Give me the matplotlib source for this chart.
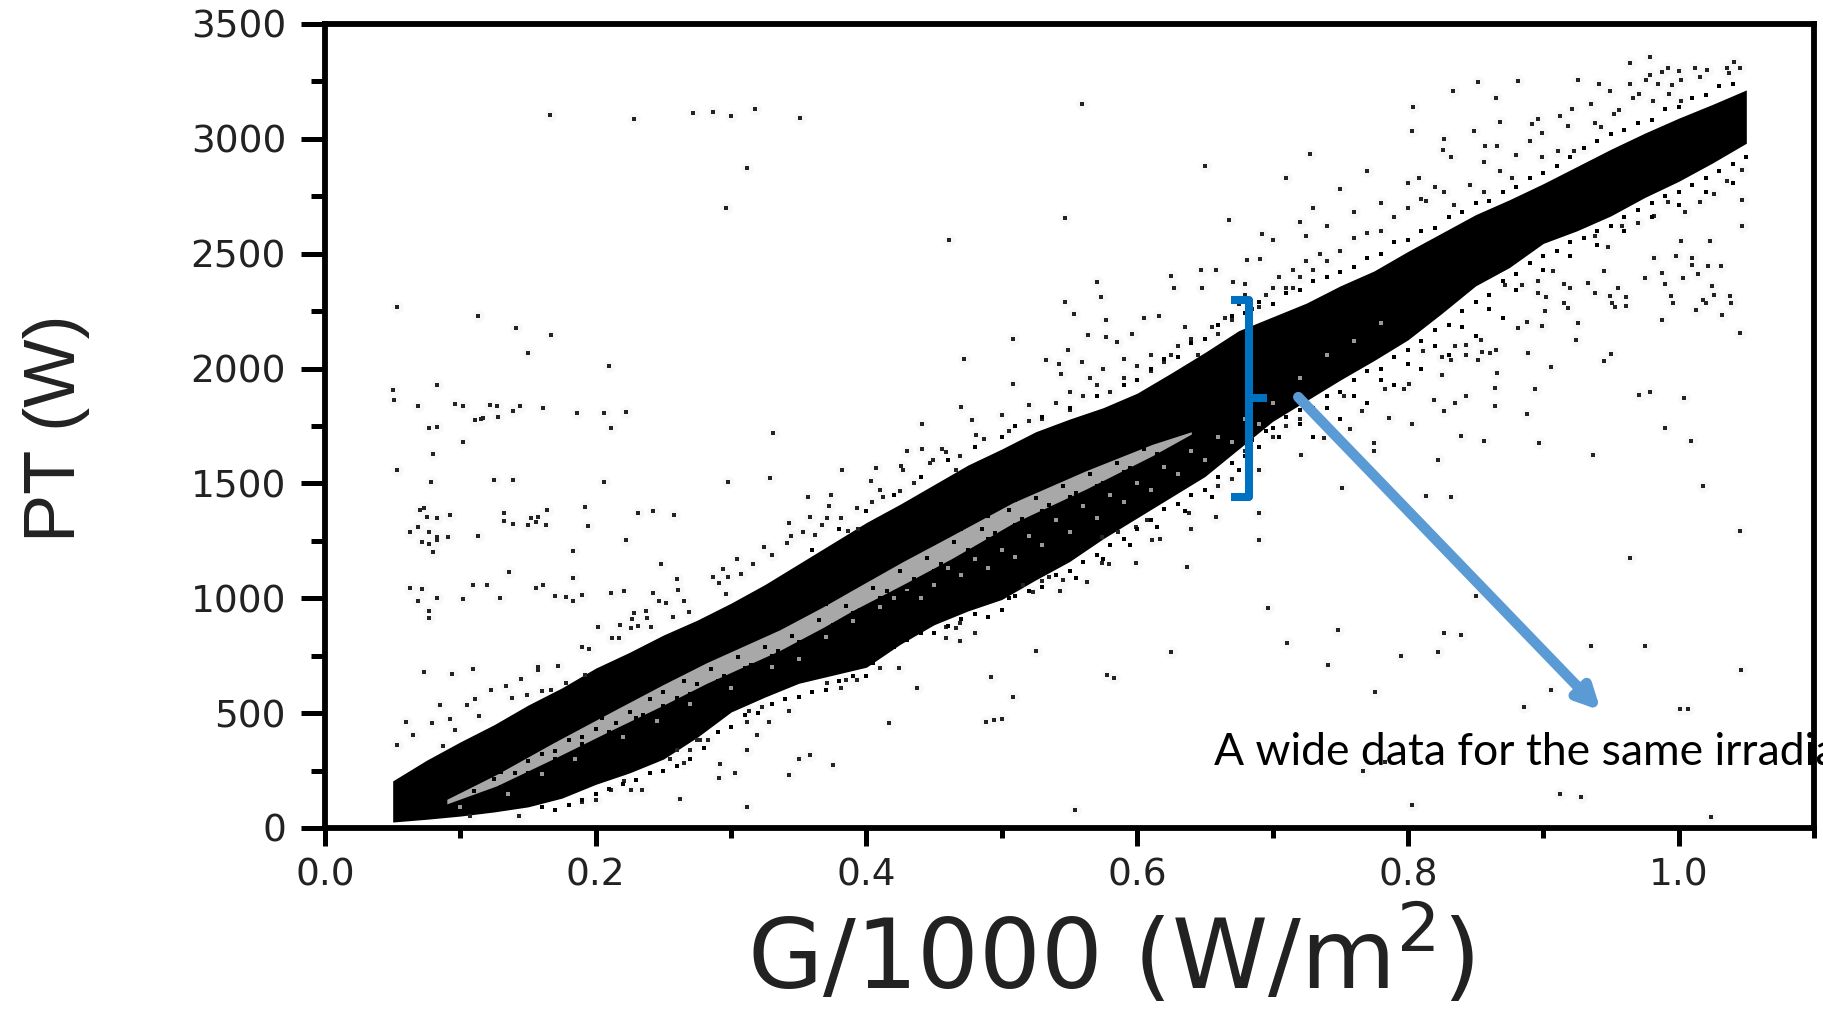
import numpy as np
import matplotlib
matplotlib.use('Agg')
import matplotlib.pyplot as plt
from matplotlib.ticker import MultipleLocator

# dense band, edges
band_x = [0.05, 0.075, 0.10, 0.125, 0.15, 0.175, 0.20, 0.225, 0.25, 0.275, 0.30, 0.325, 0.35, 0.375, 0.40,
          0.425, 0.45, 0.475, 0.50, 0.525, 0.55, 0.575, 0.60, 0.625, 0.65, 0.675, 0.70, 0.725, 0.75, 0.775,
          0.80, 0.825, 0.85, 0.875, 0.90, 0.925, 0.95, 0.975, 1.00, 1.025, 1.05]
band_top = [205, 295, 375, 450, 535, 610, 696, 765, 840, 905, 979, 1060, 1150, 1240, 1330,
            1410, 1495, 1580, 1650, 1725, 1780, 1830, 1893, 1980, 2070, 2165, 2225, 2285, 2360, 2425,
            2510, 2590, 2670, 2735, 2805, 2880, 2955, 3025, 3090, 3150, 3213]
band_bottom = [26, 38, 52, 70, 92, 130, 190, 240, 300, 395, 505, 570, 630, 665, 700,
               800, 885, 945, 995, 1080, 1160, 1260, 1350, 1440, 1530, 1650, 1770, 1860, 1950, 2035,
               2125, 2240, 2360, 2440, 2545, 2600, 2665, 2745, 2815, 2895, 2981]

# paler gap between the two branches
gap_x = [0.09, 0.127, 0.17, 0.213, 0.25, 0.282, 0.336, 0.368, 0.39, 0.427, 0.463, 0.508, 0.562, 0.611, 0.64]
gap_top = [125, 234, 375, 510, 625, 720, 863, 963, 1037, 1160, 1273, 1416, 1555, 1670, 1725]
gap_bottom = [105, 184, 305, 430, 535, 630, 773, 873, 947, 1060, 1173, 1326, 1475, 1620, 1715]

gap_specks = [(0.11, 160), (0.125, 215), (0.14, 240), (0.15, 290), (0.16, 320), (0.17, 335), (0.18, 385), (0.19, 395),
              (0.20, 430), (0.205, 480), (0.215, 455), (0.225, 505), (0.235, 490), (0.24, 560), (0.25, 590), (0.26, 565),
              (0.265, 640), (0.275, 625), (0.285, 690), (0.295, 660), (0.305, 745), (0.315, 710), (0.325, 790), (0.335, 770),
              (0.345, 835), (0.355, 815), (0.365, 905), (0.375, 885), (0.385, 965), (0.395, 950), (0.405, 1045), (0.415, 1030),
              (0.425, 1120), (0.435, 1085), (0.445, 1175), (0.455, 1150), (0.465, 1245), (0.475, 1210), (0.485, 1300), (0.495, 1285),
              (0.505, 1385), (0.515, 1345), (0.525, 1435), (0.535, 1405), (0.545, 1490), (0.555, 1460), (0.565, 1540), (0.575, 1500),
              (0.585, 1590), (0.595, 1565), (0.605, 1650), (0.615, 1630)]
gap_edge_top = [(0.13, 245), (0.15, 320), (0.17, 385), (0.19, 455), (0.21, 520), (0.23, 580), (0.25, 640), (0.27, 700),
                (0.29, 755), (0.31, 810), (0.33, 860), (0.35, 920), (0.37, 975), (0.39, 1050), (0.41, 1120), (0.43, 1180),
                (0.45, 1240), (0.47, 1300), (0.49, 1360), (0.51, 1430), (0.53, 1490), (0.55, 1540), (0.57, 1590), (0.59, 1640)]
gap_edge_bottom = [(0.13, 180), (0.15, 240), (0.17, 300), (0.19, 365), (0.21, 420), (0.23, 480), (0.25, 530), (0.27, 585),
                   (0.29, 640), (0.31, 695), (0.33, 750), (0.35, 810), (0.37, 860), (0.39, 935), (0.41, 1000), (0.43, 1050),
                   (0.45, 1120), (0.47, 1180), (0.49, 1260), (0.51, 1320), (0.53, 1380), (0.55, 1440), (0.57, 1490), (0.59, 1550)]
white_specks = [(0.10, 90), (0.135, 150), (0.16, 235), (0.185, 300), (0.22, 395), (0.245, 465), (0.27, 540), (0.30, 610),
                (0.33, 700), (0.35, 735), (0.37, 830), (0.39, 900), (0.41, 960), (0.42, 1000), (0.43, 1040), (0.44, 1000),
                (0.45, 1060), (0.46, 1130), (0.47, 1100), (0.48, 1170), (0.49, 1130), (0.50, 1210), (0.51, 1180), (0.52, 1270),
                (0.53, 1230), (0.54, 1340), (0.55, 1290), (0.56, 1400), (0.57, 1350), (0.58, 1450), (0.59, 1420), (0.60, 1500),
                (0.61, 1470), (0.62, 1570), (0.63, 1540), (0.64, 1640), (0.65, 1600), (0.66, 1700), (0.67, 1680), (0.68, 1780),
                (0.69, 1760), (0.70, 1850), (0.72, 1960), (0.74, 2060), (0.76, 2120), (0.78, 2200)]

# scattered points, upper left
left_cloud = [(0.053, 2268), (0.113, 2229), (0.141, 2177), (0.167, 2146), (0.150, 2068), (0.210, 2011), (0.05, 1907), (0.051, 1863),
              (0.083, 1928), (0.069, 1837), (0.096, 1846), (0.102, 1837), (0.115, 1780), (0.111, 1776), (0.117, 1785), (0.122, 1841),
              (0.127, 1837), (0.128, 1789), (0.139, 1815), (0.144, 1837), (0.161, 1828), (0.186, 1806), (0.206, 1806), (0.222, 1811),
              (0.211, 1741), (0.077, 1741), (0.083, 1746), (0.102, 1680), (0.080, 1628), (0.078, 1506), (0.053, 1558), (0.125, 1515),
              (0.139, 1515), (0.206, 1506), (0.298, 1506), (0.329, 1524), (0.331, 1719), (0.073, 1393), (0.070, 1385), (0.092, 1362),
              (0.083, 1349), (0.075, 1353), (0.069, 1310), (0.063, 1288), (0.077, 1288), (0.083, 1267), (0.091, 1267), (0.072, 1245),
              (0.077, 1236), (0.083, 1254), (0.113, 1271), (0.080, 1201), (0.132, 1371), (0.132, 1336), (0.139, 1323), (0.152, 1349),
              (0.157, 1353), (0.150, 1318), (0.156, 1331), (0.163, 1318), (0.164, 1384), (0.192, 1397), (0.194, 1314), (0.231, 1371),
              (0.242, 1380), (0.258, 1362), (0.222, 1254), (0.183, 1206), (0.248, 1149), (0.136, 1114), (0.183, 1088), (0.260, 1084),
              (0.294, 1127), (0.287, 1093), (0.298, 1093), (0.063, 1045), (0.072, 1041), (0.109, 1058), (0.120, 1058), (0.156, 1045),
              (0.161, 1058), (0.170, 1010), (0.178, 1006), (0.183, 988), (0.190, 1015), (0.211, 1023), (0.221, 1032), (0.069, 988),
              (0.083, 1001), (0.102, 997), (0.129, 1001), (0.077, 945), (0.077, 915), (0.242, 1023), (0.252, 980), (0.261, 1036),
              (0.265, 988), (0.247, 988), (0.237, 944), (0.228, 938), (0.202, 875), (0.227, 910), (0.218, 885), (0.238, 915),
              (0.241, 875), (0.257, 920), (0.269, 940), (0.226, 870), (0.231, 878), (0.212, 825), (0.217, 825), (0.190, 788),
              (0.166, 3104), (0.228, 3086), (0.272, 3112), (0.287, 3117), (0.300, 3100), (0.318, 3130), (0.351, 3090), (0.312, 2873),
              (0.296, 2699), (0.073, 679), (0.094, 672), (0.109, 691), (0.157, 688), (0.172, 704), (0.145, 647), (0.134, 618),
              (0.123, 600), (0.111, 561), (0.114, 488), (0.092, 474), (0.085, 535), (0.060, 462), (0.065, 404), (0.053, 361),
              (0.087, 358), (0.079, 455), (0.096, 425), (0.105, 535), (0.138, 567), (0.149, 580), (0.160, 596), (0.192, 665),
              (0.178, 630), (0.167, 600), (0.157, 703), (0.195, 780), (0.343, 1328), (0.358, 1354), (0.362, 1275), (0.344, 1270),
              (0.324, 1223), (0.33, 1190), (0.316, 1150), (0.307, 1105), (0.304, 1170), (0.291, 1065), (0.296, 1020), (0.357, 1440),
              (0.372, 1400), (0.353, 1290), (0.367, 1320), (0.341, 1240)]

# above the band, middle
upper_mid = [(0.559, 3152), (0.461, 2560), (0.547, 2655), (0.650, 2882), (0.710, 2830), (0.728, 2934), (0.668, 2647), (0.692, 2586),
             (0.725, 2577), (0.691, 2477), (0.681, 2473), (0.647, 2429), (0.658, 2429), (0.625, 2403), (0.570, 2377), (0.671, 2377),
             (0.680, 2368), (0.627, 2351), (0.648, 2351), (0.573, 2312), (0.547, 2290), (0.553, 2237), (0.577, 2211), (0.605, 2220),
             (0.616, 2229), (0.564, 2146), (0.577, 2137), (0.508, 2129), (0.596, 2150), (0.585, 2116), (0.472, 2042), (0.549, 2081),
             (0.533, 2037), (0.542, 2020), (0.559, 2029), (0.544, 1976), (0.508, 1933), (0.470, 1833), (0.441, 1759), (0.478, 1776),
             (0.382, 1558), (0.407, 1567), (0.412, 1441), (0.425, 1465), (0.435, 1500), (0.447, 1589), (0.459, 1637), (0.469, 1620),
             (0.441, 1650), (0.43, 1640), (0.456, 1650), (0.481, 1710), (0.487, 1695), (0.505, 1730), (0.371, 1349), (0.381, 1349),
             (0.393, 1395), (0.404, 1420), (0.374, 1450), (0.403, 1510), (0.41, 1470), (0.386, 1295), (0.394, 1300), (0.427, 1560),
             (0.449, 1600), (0.466, 1560), (0.4255, 1575), (0.60, 2010), (0.59, 1960), (0.61, 2060), (0.62, 2030), (0.63, 2100),
             (0.64, 2130), (0.645, 2060), (0.655, 2180), (0.665, 2220), (0.675, 2280), (0.685, 2260), (0.695, 2320), (0.705, 2400),
             (0.715, 2430), (0.725, 2470), (0.735, 2500), (0.70, 2350), (0.71, 2350), (0.72, 2400), (0.73, 2430), (0.74, 2470),
             (0.75, 2510), (0.76, 2570), (0.77, 2590), (0.78, 2600), (0.79, 2660), (0.80, 2700), (0.81, 2740), (0.82, 2790),
             (0.74, 2620), (0.76, 2680), (0.78, 2720), (0.80, 2810), (0.75, 2780), (0.77, 2860), (0.73, 2700), (0.72, 2640),
             (0.70, 2560), (0.50, 1800), (0.52, 1840), (0.53, 1780), (0.54, 1850), (0.55, 1820), (0.56, 1880), (0.57, 1930),
             (0.58, 1900), (0.59, 2040), (0.55, 1900), (0.565, 1960), (0.575, 2000), (0.52, 1770), (0.60, 1950), (0.61, 1990),
             (0.625, 2060), (0.635, 2180), (0.65, 2130), (0.66, 2150), (0.67, 2210), (0.68, 2320), (0.69, 2270), (0.715, 2350)]
upper_fuzz = [(0.36, 1210), (0.38, 1300), (0.40, 1380), (0.42, 1450), (0.44, 1530), (0.46, 1600), (0.48, 1660), (0.50, 1700),
              (0.51, 1750), (0.53, 1790), (0.55, 1830), (0.57, 1880), (0.59, 1930), (0.60, 1950), (0.62, 2040), (0.63, 2050),
              (0.65, 2130), (0.66, 2190), (0.68, 2240), (0.70, 2280), (0.72, 2340), (0.74, 2400), (0.76, 2440), (0.78, 2500),
              (0.80, 2560), (0.82, 2610), (0.84, 2680), (0.86, 2730), (0.88, 2790), (0.90, 2850), (0.92, 2920), (0.94, 2990),
              (0.96, 3040), (0.98, 3080), (1.0, 3140), (1.02, 3190), (1.04, 3240), (0.75, 2420), (0.77, 2480), (0.79, 2550),
              (0.81, 2600), (0.83, 2660), (0.85, 2720), (0.87, 2770), (0.89, 2830), (0.91, 2880), (0.93, 2960), (0.95, 3020),
              (0.97, 3070), (0.99, 3130), (1.01, 3180), (1.03, 3230), (0.61, 2000), (0.64, 2110), (0.67, 2230), (0.69, 2290),
              (0.71, 2330), (0.73, 2380)]

# above the band, right end
upper_right = [(0.979, 3356), (0.964, 3330), (0.992, 3310), (1.041, 3335), (1.036, 3310), (0.852, 3247), (0.881, 3250), (0.926, 3256),
               (0.941, 3240), (0.865, 3178), (0.803, 3034), (0.804, 3140), (0.833, 3210), (0.827, 3000), (0.849, 3035), (0.868, 3075),
               (0.896, 3086), (0.892, 3065), (0.921, 3130), (0.935, 3150), (0.912, 3100), (0.866, 2970), (0.857, 2970), (0.826, 2950),
               (0.808, 2830), (0.832, 2920), (0.856, 2900), (0.979, 3280), (0.988, 3290), (1.0, 3295), (1.012, 3310), (1.021, 3300),
               (1.045, 3310), (0.964, 3240), (0.976, 3255), (0.985, 3240), (0.995, 3235), (1.002, 3255), (1.016, 3270), (1.037, 3285),
               (0.949, 3210), (0.966, 3180), (0.971, 3195), (0.981, 3165), (0.993, 3195), (1.002, 3165), (0.956, 3125), (0.952, 3110),
               (0.938, 3070), (0.943, 3050), (0.918, 3055), (0.899, 3025), (0.890, 2990), (0.88, 2930), (0.899, 2920), (0.911, 2945),
               (0.923, 2945), (0.93, 2960), (0.868, 2860), (0.846, 2800), (0.827, 2770), (0.813, 2730), (0.834, 2710), (0.856, 2770),
               (0.877, 2830)]

# below the band
lower_left = [(0.262, 127), (0.275, 384), (0.283, 384), (0.319, 405), (0.312, 462), (0.343, 231), (0.303, 239), (0.291, 217),
              (0.358, 318), (0.350, 300), (0.312, 91), (0.234, 165), (0.211, 165), (0.226, 165), (0.221, 205), (0.200, 122),
              (0.190, 113), (0.143, 53), (0.107, 53), (0.265, 283), (0.255, 300), (0.260, 340), (0.270, 340), (0.277, 384),
              (0.313, 510), (0.323, 525), (0.328, 460), (0.343, 510), (0.312, 340), (0.292, 280), (0.424, 696), (0.437, 609),
              (0.492, 657), (0.508, 570), (0.494, 470), (0.488, 462), (0.500, 475), (0.417, 457), (0.525, 770), (0.583, 653),
              (0.578, 666), (0.625, 766), (0.554, 78), (0.375, 274), (0.480, 849), (0.459, 827), (0.469, 815), (0.385, 644),
              (0.393, 644), (0.371, 631), (0.381, 610), (0.410, 696), (0.459, 875), (0.469, 892), (0.466, 870)]
lower_mid = [(0.690, 1371), (0.690, 1254), (0.637, 1136), (0.697, 958), (0.711, 805), (0.599, 1153), (0.721, 1624), (0.574, 1267),
             (0.574, 1153), (0.563, 1071), (0.545, 1080), (0.543, 1031), (0.523, 1027), (0.535, 1093), (0.530, 1075), (0.516, 1058),
             (0.579, 1150), (0.611, 1254), (0.617, 1260), (0.638, 1371), (0.658, 1354), (0.640, 1300), (0.599, 1310), (0.586, 1290),
             (0.607, 1340), (0.786, 1783), (0.803, 1760), (0.839, 1708), (0.738, 1698), (0.757, 1739), (0.819, 1864), (0.827, 1815),
             (0.835, 1848), (0.843, 1881), (0.864, 1836), (0.888, 1804), (0.894, 1913), (0.864, 1916), (0.866, 1979), (0.861, 2066),
             (0.852, 2039), (0.843, 2060), (0.832, 2039), (0.825, 1973), (0.801, 1935), (0.783, 1913), (0.753, 1881), (0.766, 1815),
             (0.797, 1913), (0.889, 2068), (0.854, 2126), (0.865, 2082), (0.855, 2071), (0.835, 2099), (0.825, 2050), (0.811, 2077),
             (0.843, 2104), (0.70, 1700), (0.71, 1750), (0.72, 1780), (0.68, 1640), (0.69, 1560), (0.67, 1520), (0.66, 1490)]
lower_right = [(1.045, 2154), (1.038, 2316), (1.026, 2320), (1.018, 2297), (0.994, 2316), (1.032, 2235), (1.013, 2257), (0.988, 2211),
               (0.950, 2064), (0.945, 2033), (0.906, 2007), (0.924, 2126), (0.926, 2197), (0.949, 2316), (0.953, 2268), (0.961, 2273),
               (0.979, 1898), (0.971, 1884), (1.004, 1870), (0.990, 1741), (1.009, 1684), (1.018, 1489), (1.045, 1295), (0.964, 1176),
               (0.937, 1622), (0.897, 1674), (0.856, 1684), (0.822, 1603), (0.775, 1674), (0.775, 1640), (0.832, 1442), (0.813, 1444),
               (0.751, 1480), (0.850, 1010), (0.748, 863), (0.827, 849), (0.839, 839), (0.822, 768), (0.795, 748), (0.741, 711),
               (0.776, 592), (0.935, 792), (0.975, 792), (1.046, 687), (0.906, 601), (0.886, 526), (1.001, 520), (1.007, 520),
               (0.912, 150), (0.928, 136), (1.024, 46), (0.803, 98), (0.767, 250), (0.783, 288), (0.899, 2186), (0.888, 2202),
               (0.881, 2175), (0.901, 2251), (0.915, 2284), (0.918, 2262), (0.896, 2328), (0.902, 2311), (0.933, 2371), (0.915, 2366),
               (0.945, 2426), (0.955, 2350), (0.975, 2393), (0.988, 2415), (1.003, 2393), (1.022, 2448), (1.010, 2453), (1.047, 2864),
               (1.036, 2815), (1.047, 2735), (1.047, 2620), (1.026, 2760), (1.005, 2680), (1.016, 2725), (0.992, 2725), (0.982, 2665),
               (0.97, 2635), (0.958, 2620), (0.938, 2575), (0.948, 2530), (1.002, 2555), (1.023, 2555), (1.031, 2445), (1.01, 2480),
               (0.998, 2490), (0.982, 2480), (1.014, 2410), (1.025, 2360), (0.99, 2370), (0.961, 2310), (0.951, 2285), (0.938, 2330),
               (0.92, 2350), (0.907, 2425), (0.896, 2380), (0.884, 2365), (0.872, 2365), (1.02, 2285), (0.996, 2285), (1.039, 2285)]
lower_fuzz = [(0.40, 660), (0.405, 720), (0.41, 760), (0.42, 790), (0.43, 820), (0.44, 850), (0.45, 850), (0.46, 880),
              (0.47, 910), (0.48, 930), (0.49, 920), (0.50, 950), (0.505, 1000), (0.51, 1010), (0.52, 1030), (0.53, 1050),
              (0.54, 1100), (0.55, 1120), (0.555, 1090), (0.56, 1160), (0.57, 1190), (0.575, 1170), (0.58, 1230), (0.59, 1260),
              (0.595, 1230), (0.60, 1300), (0.61, 1340), (0.615, 1310), (0.62, 1390), (0.63, 1410), (0.635, 1380), (0.64, 1450),
              (0.65, 1470), (0.655, 1440), (0.66, 1530), (0.67, 1590), (0.675, 1560), (0.68, 1620), (0.685, 1690), (0.69, 1660),
              (0.695, 1730), (0.70, 1740), (0.705, 1700), (0.71, 1790), (0.72, 1820), (0.73, 1830), (0.74, 1880), (0.75, 1900),
              (0.76, 1950), (0.77, 1990), (0.78, 2000), (0.79, 2050), (0.80, 2080), (0.81, 2120), (0.82, 2170), (0.83, 2190),
              (0.84, 2250), (0.85, 2290), (0.86, 2320), (0.87, 2380), (0.88, 2410), (0.89, 2460), (0.90, 2490), (0.91, 2510),
              (0.92, 2550), (0.93, 2570), (0.94, 2600), (0.95, 2620), (0.96, 2660), (0.97, 2690), (0.98, 2720), (0.99, 2750),
              (1.0, 2770), (1.01, 2800), (1.02, 2830), (1.03, 2860), (1.04, 2890), (1.05, 2920), (0.72, 1760), (0.74, 1830),
              (0.76, 1880), (0.78, 1950), (0.80, 2020), (0.82, 2100), (0.84, 2180), (0.86, 2260), (0.88, 2340), (0.90, 2430),
              (0.92, 2490), (0.94, 2540), (0.96, 2600), (0.98, 2660), (1.0, 2710), (1.02, 2770), (1.04, 2810), (0.73, 1700),
              (0.75, 1780), (0.77, 1850), (0.79, 1930), (0.81, 2000), (0.83, 2060), (0.85, 2140), (0.87, 2220), (0.29, 420),
              (0.30, 440), (0.31, 490), (0.32, 500), (0.33, 540), (0.34, 560), (0.35, 570), (0.36, 590), (0.37, 600),
              (0.38, 640), (0.39, 660), (0.26, 270), (0.27, 300), (0.28, 350), (0.23, 210), (0.24, 240), (0.25, 250),
              (0.20, 150), (0.21, 170), (0.22, 190), (0.18, 100), (0.19, 120), (0.16, 90), (0.17, 80)]

x_ticks = [0.0, 0.2, 0.4, 0.6, 0.8, 1.0]
y_ticks = [0, 500, 1000, 1500, 2000, 2500, 3000, 3500]

W, H = 1824, 1010
plt.rcParams['mathtext.default'] = 'regular'
fig = plt.figure(figsize=(W / 100, H / 100), dpi=100)
ax = fig.add_axes([325 / W, 1 - 828 / H, (1814 - 325) / W, (828 - 24) / H])

ax.fill_between(band_x, band_bottom, band_top, color='black', lw=0, zorder=1)
ax.fill_between(gap_x, gap_bottom, gap_top, color='#a8a8a8', lw=0, zorder=1.1)

px, py = np.array(white_specks).T
ax.scatter(px, py, s=5, marker='s', c='#9a9a9a', linewidths=0, zorder=1.2)
for pts in [gap_specks, gap_edge_top, gap_edge_bottom]:
    px, py = np.array(pts).T
    ax.scatter(px, py, s=9, marker='s', c='black', linewidths=0, zorder=1.3)

# outliers, with the pale smudge round each one
for pts in [left_cloud, upper_mid, upper_right, lower_left, lower_mid, lower_right]:
    px, py = np.array(pts).T
    ax.scatter(px, py, s=80, marker='o', c='#f8f8f8', linewidths=0, zorder=0.5)
    ax.scatter(px, py, s=6, marker='s', c='#222222', linewidths=0, zorder=1.4)
for pts in [upper_fuzz, lower_fuzz]:
    px, py = np.array(pts).T
    ax.scatter(px, py, s=9, marker='s', c='black', linewidths=0, zorder=1.4)

ax.set_xlim(0, 1.1)
ax.set_ylim(0, 3500)
ax.set_xticks(x_ticks)
ax.set_yticks(y_ticks)
ax.set_xticklabels(['%.1f' % t for t in x_ticks])
ax.xaxis.set_minor_locator(MultipleLocator(0.1))
ax.yaxis.set_minor_locator(MultipleLocator(250))
for s in ax.spines.values():
    s.set_linewidth(4.2)
ax.tick_params(axis='x', which='major', length=13, width=3.6, pad=8, labelsize=27, labelcolor='#222222')
ax.tick_params(axis='x', which='minor', length=7, width=3.6)
ax.tick_params(axis='y', which='major', length=17, width=3.6, pad=11, labelsize=27, labelcolor='#222222')
ax.tick_params(axis='y', which='minor', length=10, width=3.6)

ax.set_xlabel('G/1000 (W/m$^{2}$)', fontsize=70, color='#222222')
ax.xaxis.set_label_coords((1110 - 325) / 1489, -0.095, transform=ax.transAxes)
ax.xaxis.label.set_va('top')
ax.set_ylabel('PT (W)', fontsize=52, family='Liberation Sans', color='#222222', va='center')
ax.yaxis.set_label_coords((56 - 325) / 1489, (828 - 428) / 804)

# blue bracket and arrow on top of the scatter
ax.plot([0.669, 0.6824, 0.6824, 0.669], [2298, 2298, 1441, 1441], color='#0070C0', lw=5.8,
        solid_joinstyle='round', solid_capstyle='butt', zorder=2)
ax.plot([0.6824, 0.6957], [1872, 1872], color='#0070C0', lw=5.8, solid_capstyle='butt', zorder=2)
ax.annotate('', xy=(0.9425, 511), xytext=(0.719, 1876),
            arrowprops=dict(arrowstyle='-|>,head_length=1.3,head_width=0.65', color='#5B9BD5', lw=7.5,
                            shrinkA=0, shrinkB=0), zorder=2)
ax.text((1214 - 325) / 1489, (828 - 765) / 804, 'A wide data for the same irradiance', transform=ax.transAxes,
        family='Lato', fontsize=32, color='black', ha='left', va='baseline', clip_on=False, zorder=2)

fig.savefig('out.png', dpi=100)
